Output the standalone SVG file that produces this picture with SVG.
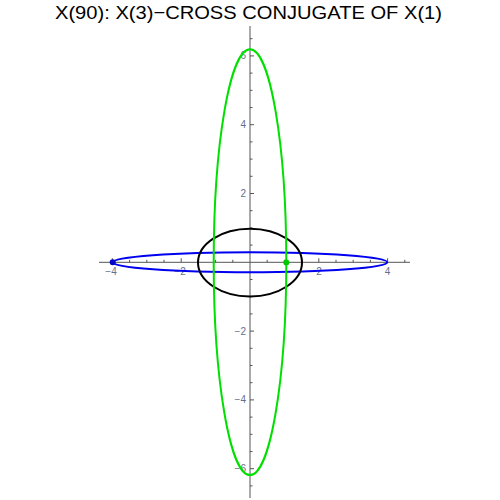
<svg xmlns="http://www.w3.org/2000/svg" width="500" height="500" viewBox="0 0 500 500">
<style>
.axis{stroke:#555;stroke-width:1;fill:none}
.tk{stroke:#555;stroke-width:1;fill:none}
.lbl{font-family:"Liberation Sans",Arial,sans-serif;font-size:10px;fill:#62708c}
.xl{text-anchor:middle}
.yl{text-anchor:end}
.title{font-family:"Liberation Sans",Arial,sans-serif;font-size:19px;fill:#000;text-anchor:middle}
.curve{fill:none;stroke-width:2}
</style>
<rect width="500" height="500" fill="#fff"/>
<text class="title" x="248.5" y="18.5" textLength="387" lengthAdjust="spacingAndGlyphs">X(90): X(3)−CROSS CONJUGATE OF X(1)</text>
<g id="axes">
<path class="axis" d="M99 262.3H410M250 26V498"/>
<path class="tk" d="M129.6 262.3v-2.5M146.8 262.3v-2.5M164 262.3v-2.5M198.4 262.3v-2.5M215.6 262.3v-2.5M232.8 262.3v-2.5M267.2 262.3v-2.5M284.4 262.3v-2.5M301.6 262.3v-2.5M336 262.3v-2.5M353.2 262.3v-2.5M370.4 262.3v-2.5M404.8 262.3v-2.5"/>
<path class="tk" d="M112.4 262.3v-4M181.2 262.3v-4M318.8 262.3v-4M387.6 262.3v-4"/>
<path class="tk" d="M250 38.7h2.5M250 73.1h2.5M250 90.3h2.5M250 107.5h2.5M250 141.9h2.5M250 159.1h2.5M250 176.3h2.5M250 210.7h2.5M250 227.9h2.5M250 245.1h2.5M250 279.5h2.5M250 296.7h2.5M250 313.9h2.5M250 348.3h2.5M250 365.5h2.5M250 382.7h2.5M250 417.1h2.5M250 434.3h2.5M250 451.5h2.5M250 485.9h2.5"/>
<path class="tk" d="M250 55.9h4M250 124.7h4M250 193.5h4M250 331.1h4M250 399.9h4M250 468.7h4"/>
<text class="lbl xl" x="111" y="274.5">−4</text>
<text class="lbl xl" x="180" y="274.5">−2</text>
<text class="lbl xl" x="319" y="274.5">2</text>
<text class="lbl xl" x="387.6" y="274.5">4</text>
<text class="lbl yl" x="246" y="59.4">6</text>
<text class="lbl yl" x="246" y="128.2">4</text>
<text class="lbl yl" x="246" y="197">2</text>
<text class="lbl yl" x="246" y="334.6">−2</text>
<text class="lbl yl" x="246" y="403.4">−4</text>
<text class="lbl yl" x="246" y="472.2">−6</text>
</g>
<g id="blue-conic">
<ellipse class="curve" cx="250" cy="262.3" rx="137.3" ry="10" stroke="#0000f0"/>
<circle cx="112.7" cy="262.3" r="3" fill="#0000c8"/>
</g>
<g id="black-conic">
<ellipse class="curve" cx="250" cy="262.6" rx="52" ry="33.8" stroke="#000"/>
</g>
<g id="green-conic">
<ellipse class="curve" cx="250" cy="262.2" rx="36.3" ry="212.9" stroke="#00e000"/>
<circle cx="286.3" cy="262.5" r="3" fill="#00c800"/>
</g>
</svg>
